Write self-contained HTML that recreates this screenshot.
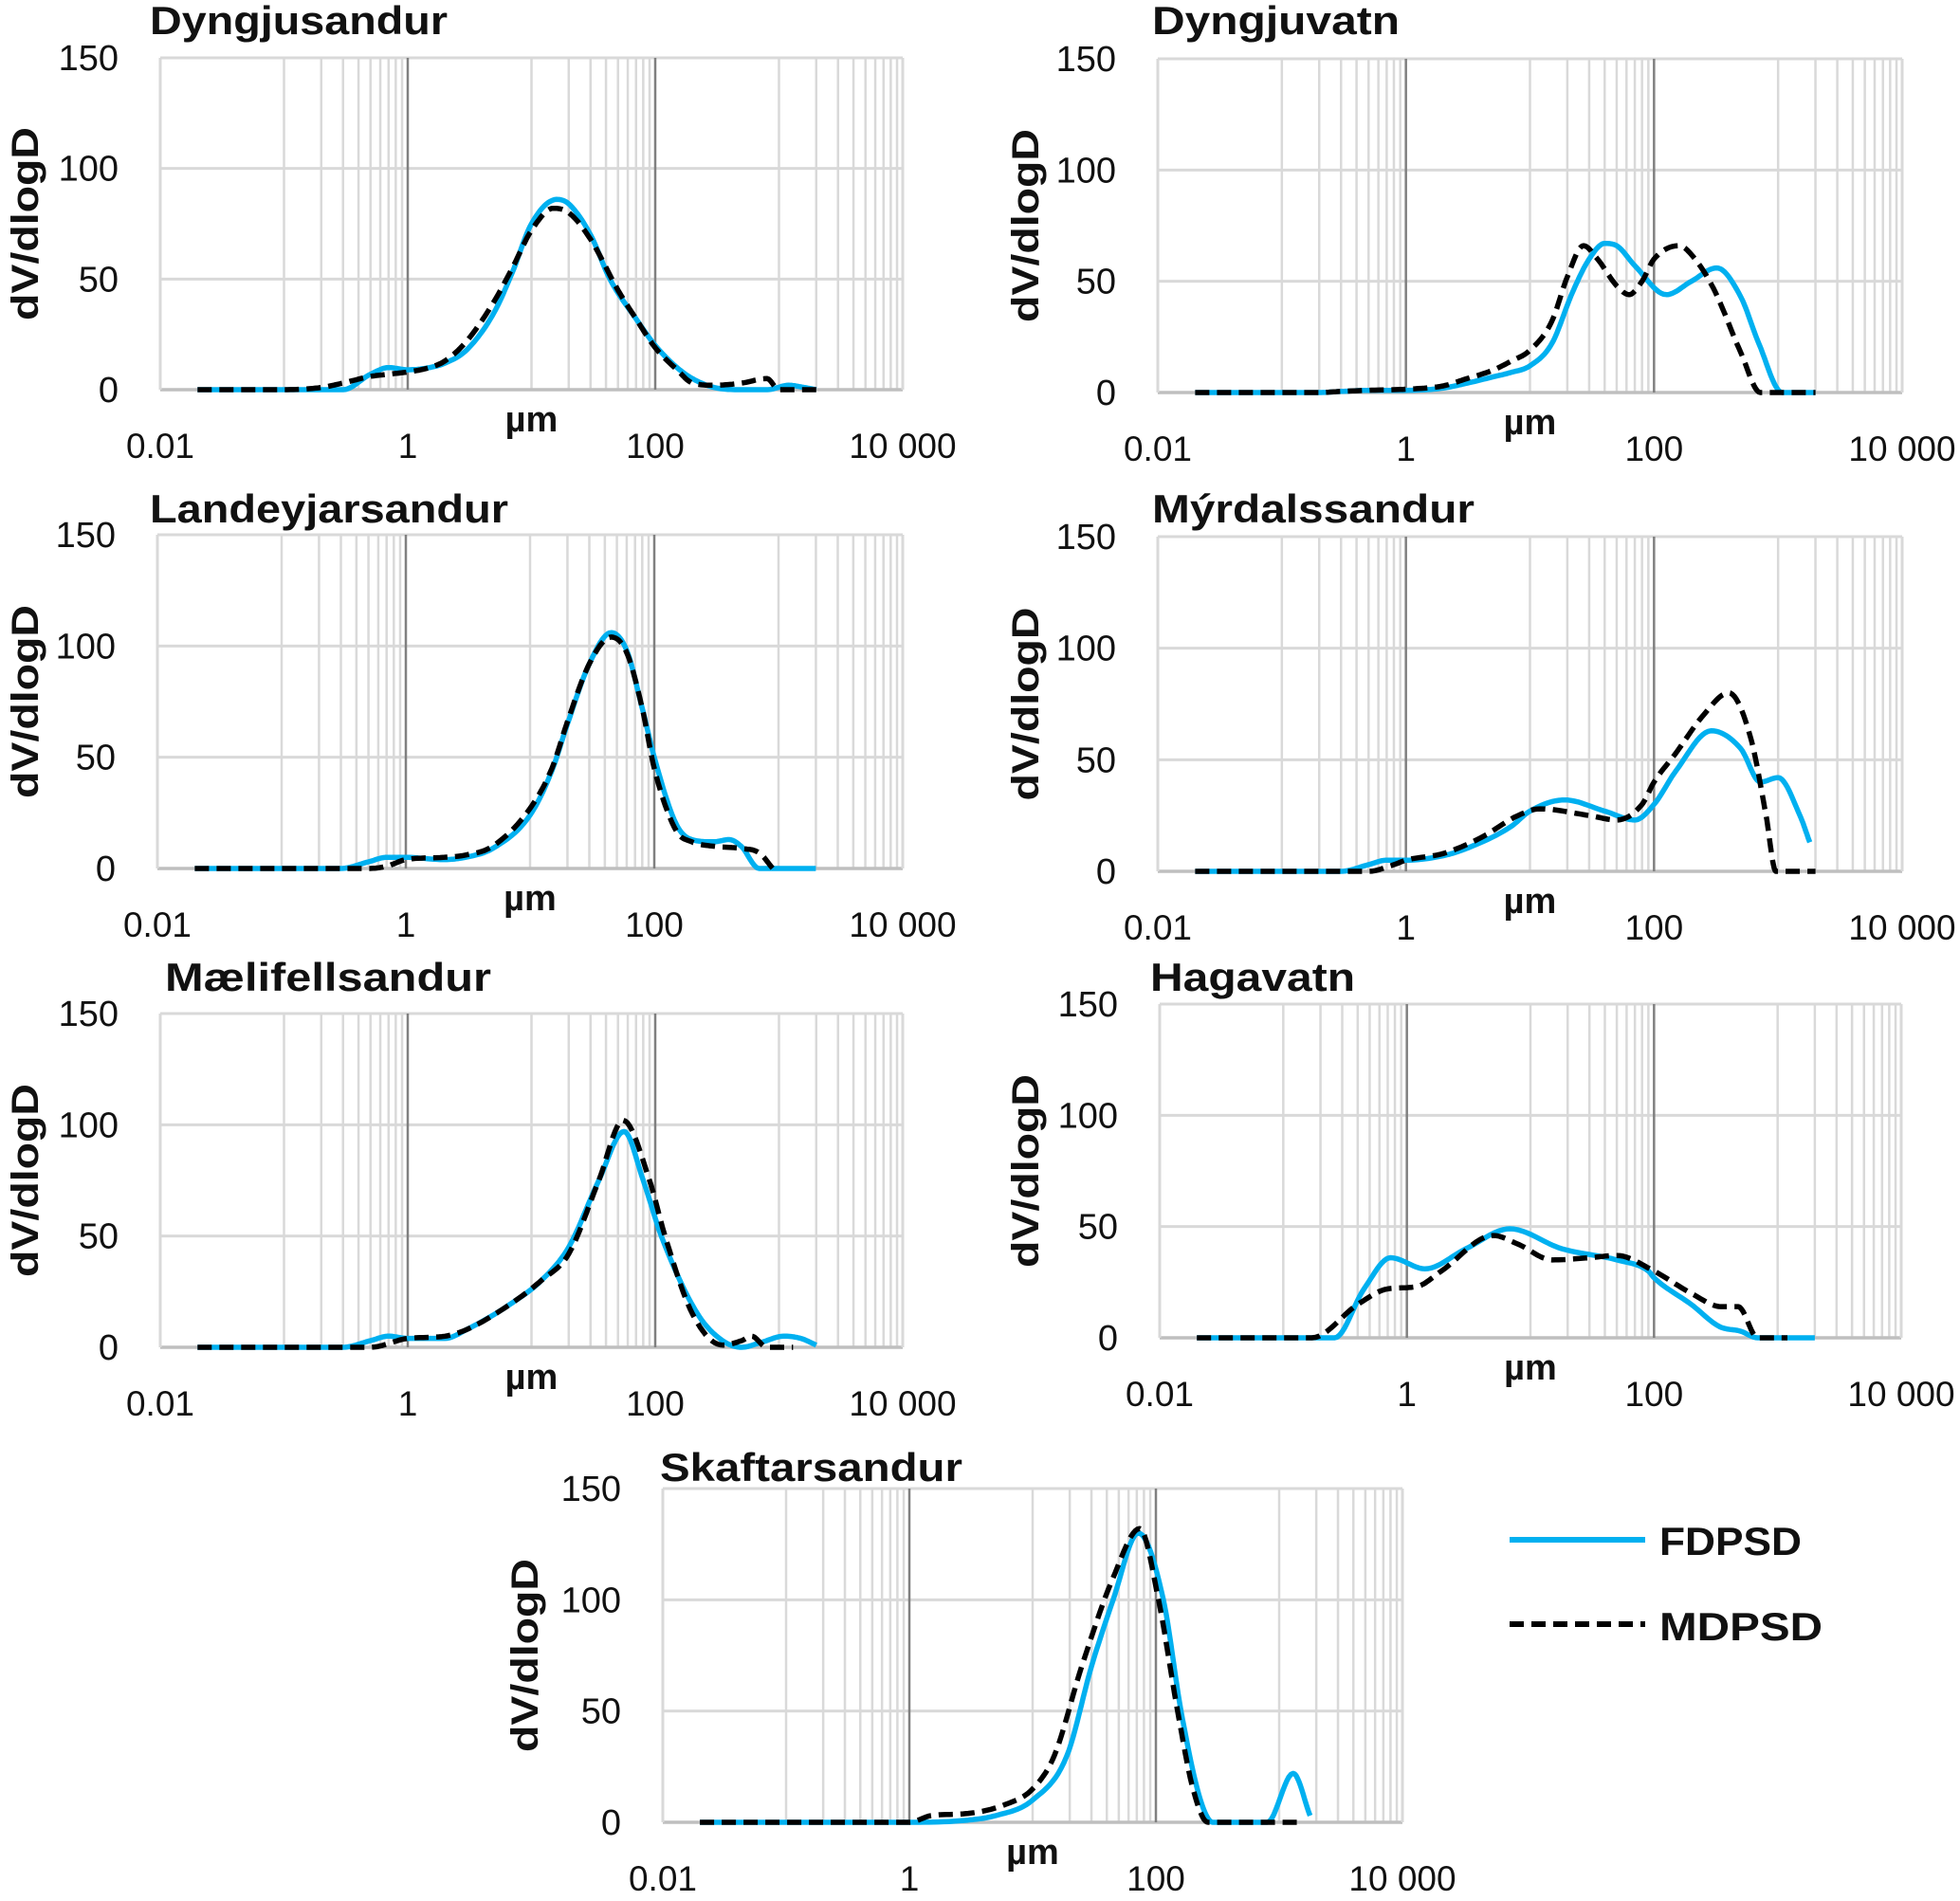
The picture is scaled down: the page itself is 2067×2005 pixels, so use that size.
<!DOCTYPE html>
<html><head><meta charset="utf-8"><style>
html,body{margin:0;padding:0;background:#fff}
svg{display:block}
text{font-family:"Liberation Sans",sans-serif;fill:#111}
</style></head><body>
<svg id="fig" width="2067" height="2005" viewBox="0 0 2067 2005" xmlns="http://www.w3.org/2000/svg">
<g>
<line x1="1592" y1="1624" x2="1735" y2="1624" stroke="#00b0f0" stroke-width="6"/>
<text x="1750" y="1640" font-size="42" font-weight="bold" textLength="150" lengthAdjust="spacingAndGlyphs">FDPSD</text>
<line x1="1592" y1="1713" x2="1735" y2="1713" stroke="#000" stroke-width="6" stroke-dasharray="15 8"/>
<text x="1750" y="1730" font-size="42" font-weight="bold" textLength="172" lengthAdjust="spacingAndGlyphs">MDPSD</text>
</g>
</svg>
<script>
// ---- chart data (sizes in µm, values dV/dlogD) ----
const titles = ["Dyngjusandur","Dyngjuvatn","Landeyjarsandur","Mýrdalssandur","Mælifellsandur","Hagavatn","Skaftarsandur"];
const xTickValues = [0.01, 1, 100, 10000];
const xTickLabels = ["0.01", "1", "100", "10 000"];
const yTickValues = [0, 50, 100, 150];
const yTickLabels = ["0", "50", "100", "150"];

const p1SizesF = [0.02,0.1,0.3,0.5,0.7,1,1.5,2,3,5,7,10,16,20,30,43,70,100,150,200,300,500,800,1200,1600,2000];
const p1ValuesF = [0,0,0,7,10,9,10,12,18,35,53,75,86,84,70,50,32,20,10,5,1,0,0,2,1,0];
const p1SizesM = [0.02,0.1,0.2,0.3,0.5,0.7,1,1.5,2,3,5,7,10,15,20,30,50,70,100,150,200,300,500,800,1000,2000];
const p1ValuesM = [0,0,1,3,6,7,8,10,13,22,40,55,72,82,80,68,45,32,19,9,3,2,3,5,0,0];

const p2SizesF = [0.02,0.2,0.3,0.5,1,2,3,5,7,10,15,22,30,40,50,70,126,200,320,500,700,1080,1500,2000];
const p2ValuesF = [0,0,0.5,1,1,2,4,7,9,12,22,45,60,67,66,57,44,50,56,43,22,0,0,0];
const p2SizesM = [0.02,0.2,0.3,0.5,1,2,3,5,7,10,15,20,27,35,50,63,80,100,160,200,300,500,720,1000,2000];
const p2ValuesM = [0,0,0.5,1,1.5,3,6,10,14,19,32,52,66,60,48,44,50,60,66,62,47,18,0,0,0];

const p3SizesF = [0.02,0.3,0.5,0.7,1,2,3,5,10,15,20,30,45,60,80,100,150,200,300,400,500,700,1000,2000];
const p3ValuesF = [0,0,3,5,5,4,5,9,24,44,65,92,106,98,72,50,20,13,12,13,10,0,0,0];
const p3SizesM = [0.02,0.5,0.7,1,2,3,5,10,15,20,30,45,60,80,100,150,200,300,500,700,900];
const p3ValuesM = [0,0,1,4,5,6,10,27,45,66,92,104,97,72,45,17,12,10,9,7,0];

const p4SizesF = [0.02,0.3,0.5,0.7,1,2,3,7,10,19,40,70,100,150,290,500,720,1000,1500,1800];
const p4ValuesF = [0,0,3,5,5,7,10,20,27,32,27,23,30,45,63,55,40,42,25,13];
const p4SizesM = [0.02,0.5,0.8,1,2,4,8,12,30,50,80,100,150,250,400,600,800,960,2000];
const p4ValuesM = [0,0,3,5,8,15,25,28,25,23,30,40,53,70,80,60,25,0,0];

const p5SizesF = [0.02,0.3,0.5,0.7,1,2,3,7,12,20,35,56,80,112,220,350,500,700,1100,1500,2000];
const p5ValuesF = [0,0,3,5,4,4,8,20,30,45,75,97,75,50,15,3,0,2,5,4,1];
const p5SizesM = [0.02,0.5,1,2,3,7,12,20,35,55,90,120,200,350,500,600,800,1300];
const p5ValuesM = [0,0,4,5,8,20,30,42,75,102,75,50,15,1,3,5,0,0];

const p6SizesF = [0.02,0.26,0.45,0.74,1.4,3,6.8,18,50,90,100,200,340,500,690,2000];
const p6ValuesF = [0,0,22,36,31,40,49,40,35,30,27,15,5,3,0,0];
const p6SizesM = [0.02,0.17,0.4,0.7,1.2,1.9,5,8,15,30,50,100,200,350,480,690,1200];
const p6ValuesM = [0,0,15,22,23,30,46,42,35,36,37,30,20,14,14,0,0];

const p7SizesF = [0.02,1,3,5,10,19,30,45,72,115,160,230,290,800,1300,1780];
const p7ValuesF = [0,0,1,3,10,30,70,100,130,100,50,10,0,0,22,3];
const p7SizesM = [0.02,1,1.5,3,6,10,15,25,45,74,105,150,200,265,1600];
const p7ValuesM = [0,0,3,4,8,15,30,70,110,132,100,50,15,0,0];

const panelSizesF = [p1SizesF,p2SizesF,p3SizesF,p4SizesF,p5SizesF,p6SizesF,p7SizesF];
const panelValuesF = [p1ValuesF,p2ValuesF,p3ValuesF,p4ValuesF,p5ValuesF,p6ValuesF,p7ValuesF];
const panelSizesM = [p1SizesM,p2SizesM,p3SizesM,p4SizesM,p5SizesM,p6SizesM,p7SizesM];
const panelValuesM = [p1ValuesM,p2ValuesM,p3ValuesM,p4ValuesM,p5ValuesM,p6ValuesM,p7ValuesM];

// layout (pixels)
const boxes = [
 {L:169,R:952,T:61,B:411,tx:158,ty:36,tw:314,yt:26},
 {L:1221,R:2006,T:62,B:414,tx:1215,ty:36,tw:261,yt:1081},
 {L:166,R:952,T:564,B:916,tx:158,ty:551,tw:378,yt:26},
 {L:1221,R:2006,T:566,B:919,tx:1215,ty:551,tw:340,yt:1081},
 {L:169,R:952,T:1069,B:1421,tx:174,ty:1045,tw:344,yt:26},
 {L:1223,R:2005,T:1059,B:1411,tx:1213,ty:1045,tw:216,yt:1081},
 {L:699,R:1479,T:1570,B:1922,tx:696,ty:1562,tw:319,yt:553}
];

const NS="http://www.w3.org/2000/svg";
const svg=document.getElementById('fig');
function mk(tag,attrs,parent){const e=document.createElementNS(NS,tag);for(const k in attrs)e.setAttribute(k,attrs[k]);(parent||svg).appendChild(e);return e;}

function monotone(xs,ys){
 const n=xs.length,d=[],m=new Array(n);
 for(let i=0;i<n-1;i++)d.push((ys[i+1]-ys[i])/(xs[i+1]-xs[i]));
 m[0]=d[0];m[n-1]=d[n-2];
 for(let i=1;i<n-1;i++){m[i]=(d[i-1]*d[i]<=0)?0:(d[i-1]+d[i])/2;}
 for(let i=0;i<n-1;i++){if(d[i]===0){m[i]=0;m[i+1]=0;continue;}const a=m[i]/d[i],b=m[i+1]/d[i],s=a*a+b*b;if(s>9){const t=3/Math.sqrt(s);m[i]=t*a*d[i];m[i+1]=t*b*d[i];}}
 return m;
}

boxes.forEach((b,pi)=>{
 const g=mk('g',{});
 
 
 const xs=v=>b.L+(Math.log10(v)+2)/6*(b.R-b.L);
 const ys=v=>b.B-v/150*(b.B-b.T);
 [0.01,1,100].forEach(base=>{for(let k=1;k<=9;k++){const v=base*10*k;if(v>=base*100)continue;
  const l=mk('line',{x1:xs(v),x2:xs(v),y1:b.T,y2:b.B,stroke:'#d9d9d9','stroke-width':2.5},g);
  }});
 yTickValues.forEach((v,i)=>{const l=mk('line',{x1:b.L,x2:b.R,y1:ys(v),y2:ys(v),stroke:i===0?'#bfbfbf':'#d9d9d9','stroke-width':i===0?3.5:3},g);
  
  const t=mk('text',{x:b.L-44,y:ys(v)+13,'font-size':38,'text-anchor':'end'},g);t.textContent=yTickLabels[i];
  });
 xTickValues.forEach((v,i)=>{const major=(i===1||i===2);
  const l=mk('line',{x1:xs(v),x2:xs(v),y1:b.T,y2:b.B,stroke:major?'#808080':'#d9d9d9','stroke-width':major?2.5:3},g);
  
  const t=mk('text',{x:xs(v),y:b.B+72,'font-size':37,'text-anchor':'middle'},g);t.textContent=xTickLabels[i];
  });
 const tt=mk('text',{x:b.tx,y:b.ty,'font-size':42,'font-weight':'bold',textLength:b.tw,lengthAdjust:'spacingAndGlyphs'},g);tt.textContent=titles[pi];
 
 const xt=mk('text',{x:xs(10),y:b.B+44,'font-size':38,'font-weight':'bold','text-anchor':'middle'},g);xt.textContent='µm';
 
 const cy=(b.T+b.B)/2;
 const yt=mk('text',{x:b.yt,y:cy,'font-size':40,'font-weight':'bold','text-anchor':'middle',transform:`rotate(-90 ${b.yt} ${cy})`,dy:14,textLength:204,lengthAdjust:'spacingAndGlyphs'},g);yt.textContent='dV/dlogD';
 
 function series(sz,vals,color,dash,name){
  const lx=sz.map(v=>Math.log10(v)),m=monotone(lx,vals);
  let d='';
  for(let i=0;i<lx.length-1;i++){const h=lx[i+1]-lx[i];
   for(let s=0;s<=12;s++){if(i>0&&s===0)continue;const t=s/12,t2=t*t,t3=t2*t;
    const y=(2*t3-3*t2+1)*vals[i]+(t3-2*t2+t)*h*m[i]+(-2*t3+3*t2)*vals[i+1]+(t3-t2)*h*m[i+1];
    const X=xs(Math.pow(10,lx[i]+t*h)),Y=ys(Math.max(0,y));d+=(d?'L':'M')+X.toFixed(1)+','+Y.toFixed(1);}}
  const p=mk('path',{d:d,fill:'none',stroke:color,'stroke-width':5.5,'stroke-linejoin':'round'},g);
  if(dash)p.setAttribute('stroke-dasharray','15 8');
  
 }
 series(panelSizesF[pi],panelValuesF[pi],'#00b0f0',false,'fdpsd-line');
 series(panelSizesM[pi],panelValuesM[pi],'#000',true,'mdpsd-line');
});
</script>
</body></html>
